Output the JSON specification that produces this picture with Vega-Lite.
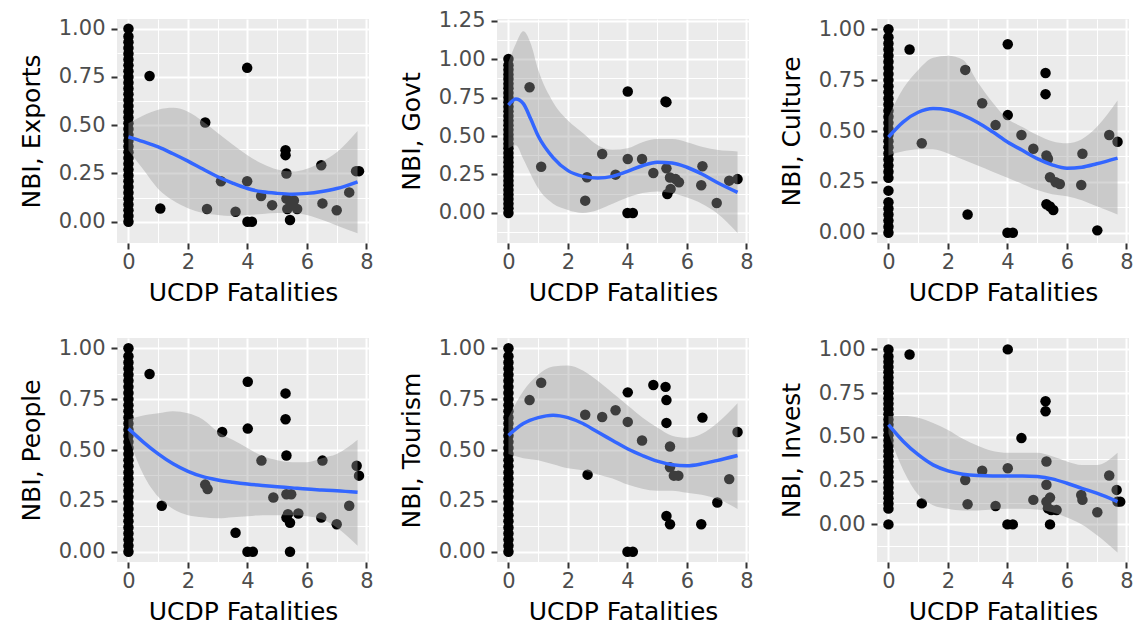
{
"$schema": "https://vega.github.io/schema/vega-lite/v6.json",
"background": "#FFFFFF",
"padding": {"left": 19, "top": 9, "right": 0, "bottom": 0},
"columns": 3,
"bounds": "flush",
"spacing": {"row": 95, "column": 128},
"datasets": {
"pts": [
{"p":"E","x":0,"y":0},{"p":"E","x":0,"y":0.03},{"p":"E","x":0,"y":0.06},{"p":"E","x":0,"y":0.09},{"p":"E","x":0,"y":0.12},{"p":"E","x":0,"y":0.15},{"p":"E","x":0,"y":0.18},{"p":"E","x":0,"y":0.21},{"p":"E","x":0,"y":0.24},{"p":"E","x":0,"y":0.27},{"p":"E","x":0,"y":0.3},{"p":"E","x":0,"y":0.33},{"p":"E","x":0,"y":0.36},{"p":"E","x":0,"y":0.39},{"p":"E","x":0,"y":0.42},{"p":"E","x":0,"y":0.45},{"p":"E","x":0,"y":0.48},{"p":"E","x":0,"y":0.51},{"p":"E","x":0,"y":0.54},{"p":"E","x":0,"y":0.57},{"p":"E","x":0,"y":0.6},{"p":"E","x":0,"y":0.63},{"p":"E","x":0,"y":0.66},{"p":"E","x":0,"y":0.69},{"p":"E","x":0,"y":0.72},{"p":"E","x":0,"y":0.75},{"p":"E","x":0,"y":0.78},{"p":"E","x":0,"y":0.81},{"p":"E","x":0,"y":0.84},{"p":"E","x":0,"y":0.87},{"p":"E","x":0,"y":0.9},{"p":"E","x":0,"y":0.93},{"p":"E","x":0,"y":0.96},{"p":"E","x":0,"y":1},
{"p":"E","x":0.71,"y":0.755},{"p":"E","x":1.07,"y":0.069},{"p":"E","x":2.58,"y":0.514},{"p":"E","x":2.64,"y":0.066},{"p":"E","x":3.11,"y":0.21},{"p":"E","x":3.6,"y":0.052},{"p":"E","x":3.99,"y":0.797},{"p":"E","x":3.99,"y":0.21},{"p":"E","x":4.0,"y":0},{"p":"E","x":4.15,"y":0},{"p":"E","x":4.46,"y":0.133},{"p":"E","x":4.83,"y":0.086},{"p":"E","x":5.28,"y":0.37},{"p":"E","x":5.28,"y":0.345},{"p":"E","x":5.31,"y":0.25},{"p":"E","x":5.31,"y":0.12},{"p":"E","x":5.45,"y":0.095},{"p":"E","x":5.43,"y":0.009},{"p":"E","x":5.56,"y":0.11},{"p":"E","x":5.67,"y":0.066},{"p":"E","x":5.34,"y":0.066},{"p":"E","x":6.48,"y":0.293},{"p":"E","x":6.52,"y":0.095},{"p":"E","x":7.0,"y":0.06},{"p":"E","x":7.42,"y":0.152},{"p":"E","x":7.65,"y":0.262},{"p":"E","x":7.75,"y":0.262},
{"p":"G","x":0,"y":0},{"p":"G","x":0,"y":0.03},{"p":"G","x":0,"y":0.06},{"p":"G","x":0,"y":0.09},{"p":"G","x":0,"y":0.12},{"p":"G","x":0,"y":0.15},{"p":"G","x":0,"y":0.18},{"p":"G","x":0,"y":0.21},{"p":"G","x":0,"y":0.24},{"p":"G","x":0,"y":0.27},{"p":"G","x":0,"y":0.3},{"p":"G","x":0,"y":0.33},{"p":"G","x":0,"y":0.36},{"p":"G","x":0,"y":0.39},{"p":"G","x":0,"y":0.42},{"p":"G","x":0,"y":0.45},{"p":"G","x":0,"y":0.48},{"p":"G","x":0,"y":0.51},{"p":"G","x":0,"y":0.54},{"p":"G","x":0,"y":0.57},{"p":"G","x":0,"y":0.6},{"p":"G","x":0,"y":0.63},{"p":"G","x":0,"y":0.66},{"p":"G","x":0,"y":0.69},{"p":"G","x":0,"y":0.72},{"p":"G","x":0,"y":0.75},{"p":"G","x":0,"y":0.78},{"p":"G","x":0,"y":0.81},{"p":"G","x":0,"y":0.84},{"p":"G","x":0,"y":0.87},{"p":"G","x":0,"y":0.9},{"p":"G","x":0,"y":0.93},{"p":"G","x":0,"y":0.96},{"p":"G","x":0,"y":1},
{"p":"G","x":0.71,"y":0.817},{"p":"G","x":1.1,"y":0.30},{"p":"G","x":2.58,"y":0.08},{"p":"G","x":2.64,"y":0.232},{"p":"G","x":3.15,"y":0.383},{"p":"G","x":3.6,"y":0.249},{"p":"G","x":4.01,"y":0.789},{"p":"G","x":4.01,"y":0.351},{"p":"G","x":4.0,"y":0},{"p":"G","x":4.18,"y":0},{"p":"G","x":4.49,"y":0.351},{"p":"G","x":4.87,"y":0.26},{"p":"G","x":5.28,"y":0.724},{"p":"G","x":5.31,"y":0.72},{"p":"G","x":5.31,"y":0.29},{"p":"G","x":5.34,"y":0.123},{"p":"G","x":5.45,"y":0.156},{"p":"G","x":5.62,"y":0.22},{"p":"G","x":5.73,"y":0.2},{"p":"G","x":5.43,"y":0.23},{"p":"G","x":6.52,"y":0.303},{"p":"G","x":6.48,"y":0.18},{"p":"G","x":7.0,"y":0.065},{"p":"G","x":7.42,"y":0.21},{"p":"G","x":7.7,"y":0.22},
{"p":"C","x":0,"y":0},{"p":"C","x":0,"y":0.03},{"p":"C","x":0,"y":0.06},{"p":"C","x":0,"y":0.09},{"p":"C","x":0,"y":0.12},{"p":"C","x":0,"y":0.15},{"p":"C","x":0,"y":0.207},{"p":"C","x":0,"y":0.27},{"p":"C","x":0,"y":0.3},{"p":"C","x":0,"y":0.33},{"p":"C","x":0,"y":0.36},{"p":"C","x":0,"y":0.39},{"p":"C","x":0,"y":0.42},{"p":"C","x":0,"y":0.45},{"p":"C","x":0,"y":0.48},{"p":"C","x":0,"y":0.51},{"p":"C","x":0,"y":0.54},{"p":"C","x":0,"y":0.57},{"p":"C","x":0,"y":0.6},{"p":"C","x":0,"y":0.63},{"p":"C","x":0,"y":0.66},{"p":"C","x":0,"y":0.69},{"p":"C","x":0,"y":0.72},{"p":"C","x":0,"y":0.75},{"p":"C","x":0,"y":0.78},{"p":"C","x":0,"y":0.81},{"p":"C","x":0,"y":0.84},{"p":"C","x":0,"y":0.87},{"p":"C","x":0,"y":0.9},{"p":"C","x":0,"y":0.93},{"p":"C","x":0,"y":0.96},{"p":"C","x":0,"y":1},
{"p":"C","x":0.71,"y":0.9},{"p":"C","x":1.12,"y":0.44},{"p":"C","x":2.58,"y":0.80},{"p":"C","x":2.66,"y":0.09},{"p":"C","x":3.15,"y":0.636},{"p":"C","x":3.6,"y":0.529},{"p":"C","x":4.01,"y":0.926},{"p":"C","x":4.01,"y":0.578},{"p":"C","x":4.0,"y":0},{"p":"C","x":4.18,"y":0},{"p":"C","x":4.47,"y":0.48},{"p":"C","x":4.87,"y":0.413},{"p":"C","x":5.28,"y":0.785},{"p":"C","x":5.28,"y":0.681},{"p":"C","x":5.31,"y":0.38},{"p":"C","x":5.36,"y":0.364},{"p":"C","x":5.43,"y":0.273},{"p":"C","x":5.31,"y":0.14},{"p":"C","x":5.43,"y":0.129},{"p":"C","x":5.54,"y":0.112},{"p":"C","x":5.62,"y":0.248},{"p":"C","x":5.76,"y":0.24},{"p":"C","x":6.52,"y":0.388},{"p":"C","x":6.48,"y":0.235},{"p":"C","x":7.02,"y":0.012},{"p":"C","x":7.42,"y":0.48},{"p":"C","x":7.7,"y":0.447},
{"p":"P","x":0,"y":0},{"p":"P","x":0,"y":0.03},{"p":"P","x":0,"y":0.06},{"p":"P","x":0,"y":0.09},{"p":"P","x":0,"y":0.12},{"p":"P","x":0,"y":0.15},{"p":"P","x":0,"y":0.18},{"p":"P","x":0,"y":0.21},{"p":"P","x":0,"y":0.24},{"p":"P","x":0,"y":0.27},{"p":"P","x":0,"y":0.3},{"p":"P","x":0,"y":0.33},{"p":"P","x":0,"y":0.36},{"p":"P","x":0,"y":0.39},{"p":"P","x":0,"y":0.42},{"p":"P","x":0,"y":0.45},{"p":"P","x":0,"y":0.48},{"p":"P","x":0,"y":0.51},{"p":"P","x":0,"y":0.54},{"p":"P","x":0,"y":0.57},{"p":"P","x":0,"y":0.6},{"p":"P","x":0,"y":0.63},{"p":"P","x":0,"y":0.66},{"p":"P","x":0,"y":0.69},{"p":"P","x":0,"y":0.72},{"p":"P","x":0,"y":0.75},{"p":"P","x":0,"y":0.78},{"p":"P","x":0,"y":0.81},{"p":"P","x":0,"y":0.84},{"p":"P","x":0,"y":0.87},{"p":"P","x":0,"y":0.9},{"p":"P","x":0,"y":0.93},{"p":"P","x":0,"y":0.96},{"p":"P","x":0,"y":1},
{"p":"P","x":0.71,"y":0.873},{"p":"P","x":1.12,"y":0.226},{"p":"P","x":2.58,"y":0.33},{"p":"P","x":2.66,"y":0.308},{"p":"P","x":3.15,"y":0.588},{"p":"P","x":3.6,"y":0.094},{"p":"P","x":4.01,"y":0.835},{"p":"P","x":4.01,"y":0.605},{"p":"P","x":4.0,"y":0},{"p":"P","x":4.18,"y":0},{"p":"P","x":4.47,"y":0.448},{"p":"P","x":4.87,"y":0.267},{"p":"P","x":5.28,"y":0.778},{"p":"P","x":5.28,"y":0.651},{"p":"P","x":5.31,"y":0.473},{"p":"P","x":5.31,"y":0.283},{"p":"P","x":5.47,"y":0.283},{"p":"P","x":5.31,"y":0.168},{"p":"P","x":5.43,"y":0.143},{"p":"P","x":5.36,"y":0.185},{"p":"P","x":5.43,"y":0},{"p":"P","x":5.71,"y":0.188},{"p":"P","x":6.52,"y":0.448},{"p":"P","x":6.48,"y":0.168},{"p":"P","x":7.0,"y":0.135},{"p":"P","x":7.42,"y":0.226},{"p":"P","x":7.67,"y":0.423},{"p":"P","x":7.75,"y":0.374},
{"p":"T","x":0,"y":0},{"p":"T","x":0,"y":0.03},{"p":"T","x":0,"y":0.06},{"p":"T","x":0,"y":0.09},{"p":"T","x":0,"y":0.12},{"p":"T","x":0,"y":0.15},{"p":"T","x":0,"y":0.18},{"p":"T","x":0,"y":0.21},{"p":"T","x":0,"y":0.24},{"p":"T","x":0,"y":0.27},{"p":"T","x":0,"y":0.3},{"p":"T","x":0,"y":0.33},{"p":"T","x":0,"y":0.36},{"p":"T","x":0,"y":0.39},{"p":"T","x":0,"y":0.42},{"p":"T","x":0,"y":0.45},{"p":"T","x":0,"y":0.48},{"p":"T","x":0,"y":0.51},{"p":"T","x":0,"y":0.54},{"p":"T","x":0,"y":0.57},{"p":"T","x":0,"y":0.6},{"p":"T","x":0,"y":0.63},{"p":"T","x":0,"y":0.66},{"p":"T","x":0,"y":0.69},{"p":"T","x":0,"y":0.72},{"p":"T","x":0,"y":0.75},{"p":"T","x":0,"y":0.78},{"p":"T","x":0,"y":0.81},{"p":"T","x":0,"y":0.84},{"p":"T","x":0,"y":0.87},{"p":"T","x":0,"y":0.9},{"p":"T","x":0,"y":0.93},{"p":"T","x":0,"y":0.96},{"p":"T","x":0,"y":1},
{"p":"T","x":0.71,"y":0.745},{"p":"T","x":1.1,"y":0.83},{"p":"T","x":2.58,"y":0.673},{"p":"T","x":2.66,"y":0.379},{"p":"T","x":3.15,"y":0.662},{"p":"T","x":3.6,"y":0.695},{"p":"T","x":4.01,"y":0.783},{"p":"T","x":4.01,"y":0.638},{"p":"T","x":4.0,"y":0},{"p":"T","x":4.18,"y":0},{"p":"T","x":4.49,"y":0.547},{"p":"T","x":4.87,"y":0.819},{"p":"T","x":5.28,"y":0.81},{"p":"T","x":5.31,"y":0.745},{"p":"T","x":5.31,"y":0.633},{"p":"T","x":5.43,"y":0.517},{"p":"T","x":5.43,"y":0.415},{"p":"T","x":5.56,"y":0.374},{"p":"T","x":5.71,"y":0.374},{"p":"T","x":5.31,"y":0.176},{"p":"T","x":5.43,"y":0.135},{"p":"T","x":6.52,"y":0.659},{"p":"T","x":6.48,"y":0.135},{"p":"T","x":7.02,"y":0.242},{"p":"T","x":7.42,"y":0.357},{"p":"T","x":7.7,"y":0.588},
{"p":"I","x":0,"y":0},{"p":"I","x":0,"y":0.09},{"p":"I","x":0,"y":0.12},{"p":"I","x":0,"y":0.15},{"p":"I","x":0,"y":0.18},{"p":"I","x":0,"y":0.21},{"p":"I","x":0,"y":0.24},{"p":"I","x":0,"y":0.27},{"p":"I","x":0,"y":0.3},{"p":"I","x":0,"y":0.33},{"p":"I","x":0,"y":0.36},{"p":"I","x":0,"y":0.39},{"p":"I","x":0,"y":0.42},{"p":"I","x":0,"y":0.45},{"p":"I","x":0,"y":0.48},{"p":"I","x":0,"y":0.51},{"p":"I","x":0,"y":0.54},{"p":"I","x":0,"y":0.57},{"p":"I","x":0,"y":0.6},{"p":"I","x":0,"y":0.63},{"p":"I","x":0,"y":0.66},{"p":"I","x":0,"y":0.69},{"p":"I","x":0,"y":0.72},{"p":"I","x":0,"y":0.75},{"p":"I","x":0,"y":0.78},{"p":"I","x":0,"y":0.81},{"p":"I","x":0,"y":0.84},{"p":"I","x":0,"y":0.87},{"p":"I","x":0,"y":0.9},{"p":"I","x":0,"y":0.93},{"p":"I","x":0,"y":0.96},{"p":"I","x":0,"y":1},
{"p":"I","x":0.71,"y":0.971},{"p":"I","x":1.12,"y":0.12},{"p":"I","x":2.58,"y":0.254},{"p":"I","x":2.66,"y":0.115},{"p":"I","x":3.15,"y":0.306},{"p":"I","x":3.6,"y":0.105},{"p":"I","x":4.01,"y":1.0},{"p":"I","x":4.01,"y":0.321},{"p":"I","x":4.0,"y":0},{"p":"I","x":4.18,"y":0},{"p":"I","x":4.47,"y":0.493},{"p":"I","x":4.87,"y":0.14},{"p":"I","x":5.28,"y":0.704},{"p":"I","x":5.28,"y":0.646},{"p":"I","x":5.31,"y":0.359},{"p":"I","x":5.31,"y":0.226},{"p":"I","x":5.31,"y":0.13},{"p":"I","x":5.43,"y":0.153},{"p":"I","x":5.36,"y":0.092},{"p":"I","x":5.47,"y":0.082},{"p":"I","x":5.65,"y":0.082},{"p":"I","x":5.43,"y":0},{"p":"I","x":6.48,"y":0.168},{"p":"I","x":6.52,"y":0.14},{"p":"I","x":7.02,"y":0.069},{"p":"I","x":7.42,"y":0.279},{"p":"I","x":7.67,"y":0.197},{"p":"I","x":7.7,"y":0.13},{"p":"I","x":7.79,"y":0.13}
],
"fit": [
{"p":"E","x":0,"y":0.44,"lo":0.37,"hi":0.51},{"p":"E","x":0.5,"y":0.415,"lo":0.27,"hi":0.55},{"p":"E","x":1,"y":0.388,"lo":0.17,"hi":0.58},{"p":"E","x":1.5,"y":0.352,"lo":0.11,"hi":0.59},{"p":"E","x":2,"y":0.314,"lo":0.07,"hi":0.57},{"p":"E","x":2.5,"y":0.273,"lo":0.045,"hi":0.52},{"p":"E","x":3,"y":0.233,"lo":0.035,"hi":0.46},{"p":"E","x":3.5,"y":0.2,"lo":0.03,"hi":0.4},{"p":"E","x":4,"y":0.172,"lo":0.035,"hi":0.345},{"p":"E","x":4.5,"y":0.155,"lo":0.04,"hi":0.3},{"p":"E","x":5,"y":0.147,"lo":0.045,"hi":0.27},{"p":"E","x":5.5,"y":0.143,"lo":0.045,"hi":0.26},{"p":"E","x":6,"y":0.147,"lo":0.035,"hi":0.275},{"p":"E","x":6.5,"y":0.157,"lo":0.01,"hi":0.31},{"p":"E","x":7,"y":0.172,"lo":-0.02,"hi":0.36},{"p":"E","x":7.7,"y":0.207,"lo":-0.06,"hi":0.47},
{"p":"G","x":0,"y":0.70,"lo":0.42,"hi":0.98},{"p":"G","x":0.25,"y":0.74,"lo":0.44,"hi":1.1},{"p":"G","x":0.5,"y":0.71,"lo":0.35,"hi":1.18},{"p":"G","x":0.75,"y":0.61,"lo":0.25,"hi":1.1},{"p":"G","x":1,"y":0.5,"lo":0.16,"hi":0.93},{"p":"G","x":1.5,"y":0.36,"lo":0.06,"hi":0.72},{"p":"G","x":2,"y":0.275,"lo":0.02,"hi":0.6},{"p":"G","x":2.5,"y":0.238,"lo":0.0,"hi":0.52},{"p":"G","x":3,"y":0.227,"lo":0.02,"hi":0.44},{"p":"G","x":3.5,"y":0.238,"lo":0.06,"hi":0.41},{"p":"G","x":4,"y":0.27,"lo":0.1,"hi":0.42},{"p":"G","x":4.5,"y":0.307,"lo":0.13,"hi":0.46},{"p":"G","x":5,"y":0.33,"lo":0.14,"hi":0.48},{"p":"G","x":5.5,"y":0.325,"lo":0.13,"hi":0.48},{"p":"G","x":6,"y":0.297,"lo":0.1,"hi":0.46},{"p":"G","x":6.5,"y":0.253,"lo":0.06,"hi":0.43},{"p":"G","x":7,"y":0.2,"lo":0.0,"hi":0.41},{"p":"G","x":7.7,"y":0.134,"lo":-0.13,"hi":0.4},
{"p":"C","x":0,"y":0.47,"lo":0.38,"hi":0.57},{"p":"C","x":0.5,"y":0.545,"lo":0.4,"hi":0.71},{"p":"C","x":1,"y":0.592,"lo":0.41,"hi":0.8},{"p":"C","x":1.5,"y":0.61,"lo":0.41,"hi":0.86},{"p":"C","x":2,"y":0.603,"lo":0.39,"hi":0.87},{"p":"C","x":2.5,"y":0.578,"lo":0.36,"hi":0.85},{"p":"C","x":3,"y":0.542,"lo":0.33,"hi":0.74},{"p":"C","x":3.5,"y":0.496,"lo":0.3,"hi":0.64},{"p":"C","x":4,"y":0.446,"lo":0.27,"hi":0.56},{"p":"C","x":4.5,"y":0.405,"lo":0.24,"hi":0.52},{"p":"C","x":5,"y":0.364,"lo":0.21,"hi":0.48},{"p":"C","x":5.5,"y":0.334,"lo":0.19,"hi":0.45},{"p":"C","x":6,"y":0.317,"lo":0.18,"hi":0.44},{"p":"C","x":6.5,"y":0.322,"lo":0.16,"hi":0.46},{"p":"C","x":7,"y":0.339,"lo":0.13,"hi":0.52},{"p":"C","x":7.7,"y":0.367,"lo":0.09,"hi":0.65},
{"p":"P","x":0,"y":0.605,"lo":0.56,"hi":0.65},{"p":"P","x":0.5,"y":0.539,"lo":0.38,"hi":0.67},{"p":"P","x":1,"y":0.481,"lo":0.27,"hi":0.68},{"p":"P","x":1.5,"y":0.432,"lo":0.21,"hi":0.69},{"p":"P","x":2,"y":0.395,"lo":0.18,"hi":0.68},{"p":"P","x":2.5,"y":0.369,"lo":0.17,"hi":0.65},{"p":"P","x":3,"y":0.353,"lo":0.165,"hi":0.59},{"p":"P","x":3.5,"y":0.342,"lo":0.17,"hi":0.55},{"p":"P","x":4,"y":0.333,"lo":0.175,"hi":0.51},{"p":"P","x":4.5,"y":0.326,"lo":0.18,"hi":0.47},{"p":"P","x":5,"y":0.32,"lo":0.18,"hi":0.45},{"p":"P","x":5.5,"y":0.314,"lo":0.18,"hi":0.44},{"p":"P","x":6,"y":0.308,"lo":0.175,"hi":0.44},{"p":"P","x":6.5,"y":0.304,"lo":0.16,"hi":0.46},{"p":"P","x":7,"y":0.3,"lo":0.12,"hi":0.48},{"p":"P","x":7.7,"y":0.292,"lo":0.03,"hi":0.55},
{"p":"T","x":0,"y":0.572,"lo":0.48,"hi":0.66},{"p":"T","x":0.5,"y":0.63,"lo":0.46,"hi":0.79},{"p":"T","x":1,"y":0.659,"lo":0.45,"hi":0.87},{"p":"T","x":1.5,"y":0.671,"lo":0.43,"hi":0.91},{"p":"T","x":2,"y":0.659,"lo":0.41,"hi":0.915},{"p":"T","x":2.5,"y":0.63,"lo":0.4,"hi":0.89},{"p":"T","x":3,"y":0.588,"lo":0.38,"hi":0.84},{"p":"T","x":3.5,"y":0.547,"lo":0.36,"hi":0.78},{"p":"T","x":4,"y":0.506,"lo":0.33,"hi":0.72},{"p":"T","x":4.5,"y":0.473,"lo":0.31,"hi":0.66},{"p":"T","x":5,"y":0.445,"lo":0.3,"hi":0.61},{"p":"T","x":5.5,"y":0.428,"lo":0.3,"hi":0.57},{"p":"T","x":6,"y":0.423,"lo":0.29,"hi":0.56},{"p":"T","x":6.5,"y":0.432,"lo":0.28,"hi":0.58},{"p":"T","x":7,"y":0.448,"lo":0.26,"hi":0.63},{"p":"T","x":7.7,"y":0.473,"lo":0.21,"hi":0.73},
{"p":"I","x":0,"y":0.57,"lo":0.52,"hi":0.62},{"p":"I","x":0.5,"y":0.474,"lo":0.31,"hi":0.62},{"p":"I","x":1,"y":0.398,"lo":0.17,"hi":0.61},{"p":"I","x":1.5,"y":0.34,"lo":0.11,"hi":0.58},{"p":"I","x":2,"y":0.306,"lo":0.09,"hi":0.54},{"p":"I","x":2.5,"y":0.287,"lo":0.08,"hi":0.49},{"p":"I","x":3,"y":0.279,"lo":0.08,"hi":0.45},{"p":"I","x":3.5,"y":0.277,"lo":0.085,"hi":0.42},{"p":"I","x":4,"y":0.277,"lo":0.09,"hi":0.41},{"p":"I","x":4.5,"y":0.277,"lo":0.09,"hi":0.41},{"p":"I","x":5,"y":0.273,"lo":0.085,"hi":0.41},{"p":"I","x":5.5,"y":0.26,"lo":0.07,"hi":0.39},{"p":"I","x":6,"y":0.235,"lo":0.04,"hi":0.36},{"p":"I","x":6.5,"y":0.206,"lo":0.0,"hi":0.34},{"p":"I","x":7,"y":0.178,"lo":-0.06,"hi":0.34},{"p":"I","x":7.7,"y":0.13,"lo":-0.16,"hi":0.41}
]
},
"concat": [
{"width":252,"height":224,
 "encoding":{
  "x":{"field":"x","type":"quantitative","scale":{"domain":[-0.385,8.085],"nice":false,"zero":false},"axis":{"title":"UCDP Fatalities","values":[0,1,2,3,4,5,6,7,8],"labelExpr":"datum.value % 2 === 0 ? datum.label : ''","gridWidth":{"condition":{"test":"datum.value % 2 === 0","value":2},"value":1},"tickOpacity":{"condition":{"test":"datum.value % 2 === 0","value":1},"value":0}}},
  "y":{"field":"y","type":"quantitative","scale":{"domain":[-0.11,1.05],"nice":false,"zero":false},"axis":{"title":"NBI, Exports","values":[0,0.125,0.25,0.375,0.5,0.625,0.75,0.875,1],"format":".2f","labelExpr":"round(datum.value*8) % 2 === 0 ? datum.label : ''","gridWidth":{"condition":{"test":"round(datum.value*8) % 2 === 0","value":2},"value":1},"tickOpacity":{"condition":{"test":"round(datum.value*8) % 2 === 0","value":1},"value":0}}}},
 "layer":[
  {"data":{"name":"pts"},"transform":[{"filter":"datum.p === 'E'"}],"mark":{"type":"circle","size":110,"color":"#000000","opacity":1}},
  {"data":{"name":"fit"},"transform":[{"filter":"datum.p === 'E'"}],"mark":{"type":"area","color":"#999999","opacity":0.4,"interpolate":"monotone"},"encoding":{"y":{"field":"lo","type":"quantitative","title":"NBI, Exports","scale":{"domain":[-0.11,1.05],"nice":false,"zero":false}},"y2":{"field":"hi"}}},
  {"data":{"name":"fit"},"transform":[{"filter":"datum.p === 'E'"}],"mark":{"type":"line","color":"#3366FF","strokeWidth":3.5,"interpolate":"monotone"}}
 ]},
{"width":252,"height":224,
 "encoding":{
  "x":{"field":"x","type":"quantitative","scale":{"domain":[-0.385,8.085],"nice":false,"zero":false},"axis":{"title":"UCDP Fatalities","values":[0,1,2,3,4,5,6,7,8],"labelExpr":"datum.value % 2 === 0 ? datum.label : ''","gridWidth":{"condition":{"test":"datum.value % 2 === 0","value":2},"value":1},"tickOpacity":{"condition":{"test":"datum.value % 2 === 0","value":1},"value":0}}},
  "y":{"field":"y","type":"quantitative","scale":{"domain":[-0.195,1.26],"nice":false,"zero":false},"axis":{"title":"NBI, Govt","values":[-0.125,0,0.125,0.25,0.375,0.5,0.625,0.75,0.875,1,1.125,1.25],"format":".2f","labelExpr":"round(datum.value*8) % 2 === 0 ? datum.label : ''","gridWidth":{"condition":{"test":"round(datum.value*8) % 2 === 0","value":2},"value":1},"tickOpacity":{"condition":{"test":"round(datum.value*8) % 2 === 0","value":1},"value":0}}}},
 "layer":[
  {"data":{"name":"pts"},"transform":[{"filter":"datum.p === 'G'"}],"mark":{"type":"circle","size":110,"color":"#000000","opacity":1}},
  {"data":{"name":"fit"},"transform":[{"filter":"datum.p === 'G'"}],"mark":{"type":"area","color":"#999999","opacity":0.4,"interpolate":"monotone"},"encoding":{"y":{"field":"lo","type":"quantitative","title":"NBI, Govt","scale":{"domain":[-0.195,1.26],"nice":false,"zero":false}},"y2":{"field":"hi"}}},
  {"data":{"name":"fit"},"transform":[{"filter":"datum.p === 'G'"}],"mark":{"type":"line","color":"#3366FF","strokeWidth":3.5,"interpolate":"monotone"}}
 ]},
{"width":252,"height":224,
 "encoding":{
  "x":{"field":"x","type":"quantitative","scale":{"domain":[-0.385,8.085],"nice":false,"zero":false},"axis":{"title":"UCDP Fatalities","values":[0,1,2,3,4,5,6,7,8],"labelExpr":"datum.value % 2 === 0 ? datum.label : ''","gridWidth":{"condition":{"test":"datum.value % 2 === 0","value":2},"value":1},"tickOpacity":{"condition":{"test":"datum.value % 2 === 0","value":1},"value":0}}},
  "y":{"field":"y","type":"quantitative","scale":{"domain":[-0.05,1.05],"nice":false,"zero":false},"axis":{"title":"NBI, Culture","values":[0,0.125,0.25,0.375,0.5,0.625,0.75,0.875,1],"format":".2f","labelExpr":"round(datum.value*8) % 2 === 0 ? datum.label : ''","gridWidth":{"condition":{"test":"round(datum.value*8) % 2 === 0","value":2},"value":1},"tickOpacity":{"condition":{"test":"round(datum.value*8) % 2 === 0","value":1},"value":0}}}},
 "layer":[
  {"data":{"name":"pts"},"transform":[{"filter":"datum.p === 'C'"}],"mark":{"type":"circle","size":110,"color":"#000000","opacity":1}},
  {"data":{"name":"fit"},"transform":[{"filter":"datum.p === 'C'"}],"mark":{"type":"area","color":"#999999","opacity":0.4,"interpolate":"monotone"},"encoding":{"y":{"field":"lo","type":"quantitative","title":"NBI, Culture","scale":{"domain":[-0.05,1.05],"nice":false,"zero":false}},"y2":{"field":"hi"}}},
  {"data":{"name":"fit"},"transform":[{"filter":"datum.p === 'C'"}],"mark":{"type":"line","color":"#3366FF","strokeWidth":3.5,"interpolate":"monotone"}}
 ]},
{"width":252,"height":224,
 "encoding":{
  "x":{"field":"x","type":"quantitative","scale":{"domain":[-0.385,8.085],"nice":false,"zero":false},"axis":{"title":"UCDP Fatalities","values":[0,1,2,3,4,5,6,7,8],"labelExpr":"datum.value % 2 === 0 ? datum.label : ''","gridWidth":{"condition":{"test":"datum.value % 2 === 0","value":2},"value":1},"tickOpacity":{"condition":{"test":"datum.value % 2 === 0","value":1},"value":0}}},
  "y":{"field":"y","type":"quantitative","scale":{"domain":[-0.05,1.05],"nice":false,"zero":false},"axis":{"title":"NBI, People","values":[0,0.125,0.25,0.375,0.5,0.625,0.75,0.875,1],"format":".2f","labelExpr":"round(datum.value*8) % 2 === 0 ? datum.label : ''","gridWidth":{"condition":{"test":"round(datum.value*8) % 2 === 0","value":2},"value":1},"tickOpacity":{"condition":{"test":"round(datum.value*8) % 2 === 0","value":1},"value":0}}}},
 "layer":[
  {"data":{"name":"pts"},"transform":[{"filter":"datum.p === 'P'"}],"mark":{"type":"circle","size":110,"color":"#000000","opacity":1}},
  {"data":{"name":"fit"},"transform":[{"filter":"datum.p === 'P'"}],"mark":{"type":"area","color":"#999999","opacity":0.4,"interpolate":"monotone"},"encoding":{"y":{"field":"lo","type":"quantitative","title":"NBI, People","scale":{"domain":[-0.05,1.05],"nice":false,"zero":false}},"y2":{"field":"hi"}}},
  {"data":{"name":"fit"},"transform":[{"filter":"datum.p === 'P'"}],"mark":{"type":"line","color":"#3366FF","strokeWidth":3.5,"interpolate":"monotone"}}
 ]},
{"width":252,"height":224,
 "encoding":{
  "x":{"field":"x","type":"quantitative","scale":{"domain":[-0.385,8.085],"nice":false,"zero":false},"axis":{"title":"UCDP Fatalities","values":[0,1,2,3,4,5,6,7,8],"labelExpr":"datum.value % 2 === 0 ? datum.label : ''","gridWidth":{"condition":{"test":"datum.value % 2 === 0","value":2},"value":1},"tickOpacity":{"condition":{"test":"datum.value % 2 === 0","value":1},"value":0}}},
  "y":{"field":"y","type":"quantitative","scale":{"domain":[-0.05,1.05],"nice":false,"zero":false},"axis":{"title":"NBI, Tourism","values":[0,0.125,0.25,0.375,0.5,0.625,0.75,0.875,1],"format":".2f","labelExpr":"round(datum.value*8) % 2 === 0 ? datum.label : ''","gridWidth":{"condition":{"test":"round(datum.value*8) % 2 === 0","value":2},"value":1},"tickOpacity":{"condition":{"test":"round(datum.value*8) % 2 === 0","value":1},"value":0}}}},
 "layer":[
  {"data":{"name":"pts"},"transform":[{"filter":"datum.p === 'T'"}],"mark":{"type":"circle","size":110,"color":"#000000","opacity":1}},
  {"data":{"name":"fit"},"transform":[{"filter":"datum.p === 'T'"}],"mark":{"type":"area","color":"#999999","opacity":0.4,"interpolate":"monotone"},"encoding":{"y":{"field":"lo","type":"quantitative","title":"NBI, Tourism","scale":{"domain":[-0.05,1.05],"nice":false,"zero":false}},"y2":{"field":"hi"}}},
  {"data":{"name":"fit"},"transform":[{"filter":"datum.p === 'T'"}],"mark":{"type":"line","color":"#3366FF","strokeWidth":3.5,"interpolate":"monotone"}}
 ]},
{"width":252,"height":224,
 "encoding":{
  "x":{"field":"x","type":"quantitative","scale":{"domain":[-0.385,8.085],"nice":false,"zero":false},"axis":{"title":"UCDP Fatalities","values":[0,1,2,3,4,5,6,7,8],"labelExpr":"datum.value % 2 === 0 ? datum.label : ''","gridWidth":{"condition":{"test":"datum.value % 2 === 0","value":2},"value":1},"tickOpacity":{"condition":{"test":"datum.value % 2 === 0","value":1},"value":0}}},
  "y":{"field":"y","type":"quantitative","scale":{"domain":[-0.215,1.065],"nice":false,"zero":false},"axis":{"title":"NBI, Invest","values":[-0.125,0,0.125,0.25,0.375,0.5,0.625,0.75,0.875,1],"format":".2f","labelExpr":"round(datum.value*8) % 2 === 0 ? datum.label : ''","gridWidth":{"condition":{"test":"round(datum.value*8) % 2 === 0","value":2},"value":1},"tickOpacity":{"condition":{"test":"round(datum.value*8) % 2 === 0","value":1},"value":0}}}},
 "layer":[
  {"data":{"name":"pts"},"transform":[{"filter":"datum.p === 'I'"}],"mark":{"type":"circle","size":110,"color":"#000000","opacity":1}},
  {"data":{"name":"fit"},"transform":[{"filter":"datum.p === 'I'"}],"mark":{"type":"area","color":"#999999","opacity":0.4,"interpolate":"monotone"},"encoding":{"y":{"field":"lo","type":"quantitative","title":"NBI, Invest","scale":{"domain":[-0.215,1.065],"nice":false,"zero":false}},"y2":{"field":"hi"}}},
  {"data":{"name":"fit"},"transform":[{"filter":"datum.p === 'I'"}],"mark":{"type":"line","color":"#3366FF","strokeWidth":3.5,"interpolate":"monotone"}}
 ]}
],
"config": {
 "view": {"fill": "#EBEBEB", "stroke": null},
 "axis": {"domain": false, "labelFont": "DejaVu Sans", "labelFontSize": 21, "labelColor": "#4D4D4D", "titleFont": "DejaVu Sans", "titleFontSize": 25, "titleColor": "#000000", "titleFontWeight": "normal", "tickColor": "#333333", "tickSize": 6, "tickWidth": 2, "gridColor": "#FFFFFF", "labelOverlap": false, "labelFlush": false},
 "axisX": {"labelPadding": 2, "titlePadding": 8},
 "axisY": {"labelPadding": 6, "titlePadding": 14}
}
}
